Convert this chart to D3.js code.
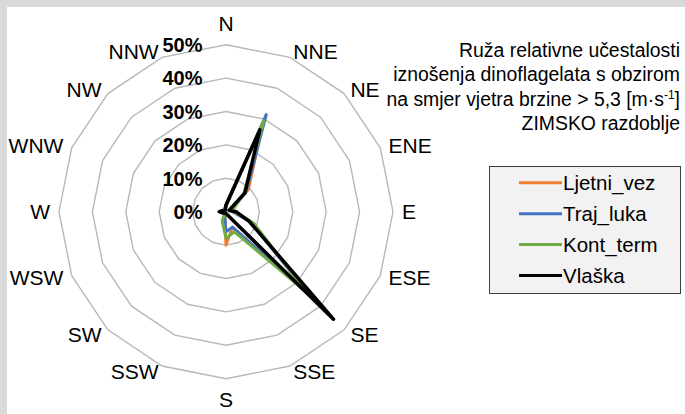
<!DOCTYPE html>
<html>
<head>
<meta charset="utf-8">
<script src="https://cdn.jsdelivr.net/npm/d3@7"></script>
<style>
  html, body { margin: 0; padding: 0; background: #ffffff; }
  svg { display: block; font-family: "Liberation Sans", Arial, sans-serif; }
</style>
</head>
<body>
<svg id="chart" width="685" height="414"></svg>
<script>
// Wind directions (clockwise from north)
const directions = ["N", "NNE", "NE", "ENE", "E", "ESE", "SE", "SSE",
                    "S", "SSW", "SW", "WSW", "W", "WNW", "NW", "NNW"];

// Relative frequency (%) per direction for each station
const ljetniVez = [2, 29, 9.5, 2, 2, 8.5, 35, 5, 10, 1, 0.5, 0.5, 1, 0.5, 0.5, 1];
const trajLuka  = [2, 31.5, 8.5, 2, 2, 8, 35, 5, 6, 1, 0.5, 0.5, 1, 0.5, 0.5, 1];
const kontTerm  = [1.5, 29.5, 7.5, 2.5, 2.5, 9, 34, 6.5, 8, 3, 0.5, 0.5, 1, 0.5, 0.5, 1];
const vlaska    = [2, 26.5, 8, 1, 3, 7.5, 45.5, 1, 0.5, 0.5, 0.5, 1, 2, 1, 0.5, 0.5];

const seriesNames  = ["Ljetni_vez", "Traj_luka", "Kont_term", "Vlaška"];
const seriesColors = ["#ed7d31", "#4472c4", "#70ad47", "#000000"];
const seriesWidths = [3, 3, 3, 3.5];
const seriesValues = [ljetniVez, trajLuka, kontTerm, vlaska];

// Radial axis ticks (%)
const tickValues = [0, 10, 20, 30, 40, 50];

const titleLines = [
  "Ruža relativne učestalosti",
  "iznošenja dinoflagelata s obzirom",
  "na smjer vjetra brzine > 5,3 [m·s",
  "ZIMSKO razdoblje"
];

const svg = d3.select("#chart");
const W = 685, H = 414;

// frame bands along the top and left edges
svg.append("rect").attr("x", 0).attr("y", 0).attr("width", W).attr("height", 7).attr("fill", "#d9d9d9");
svg.append("rect").attr("x", 0).attr("y", 0).attr("width", 7).attr("height", H).attr("fill", "#d9d9d9");

const cx = 226, cy = 211.7, R = 167;
const r = d3.scaleLinear().domain([0, 50]).range([0, R]);
const angle = d3.scalePoint().domain(directions).range([0, 2 * Math.PI * 15 / 16]);

const g = svg.append("g").attr("transform", `translate(${cx},${cy})`);

// concentric polygon grid
const ringLine = d3.lineRadial()
  .angle(d => angle(d))
  .curve(d3.curveLinearClosed);
tickValues.filter(t => t > 0).forEach(t => {
  g.append("path")
    .attr("d", ringLine.radius(() => r(t))(directions))
    .attr("fill", "none")
    .attr("stroke", "#b8b8b8")
    .attr("stroke-width", 1.4);
});

// radial tick labels
g.selectAll("text.tick")
  .data(tickValues)
  .join("text")
  .attr("class", "tick")
  .attr("x", -23.5)
  .attr("y", d => -r(d))
  .attr("dy", "0.36em")
  .attr("text-anchor", "end")
  .attr("font-size", 20)
  .attr("font-weight", "bold")
  .attr("fill", "#000")
  .text(d => d3.format(".0%")(d / 100));

// direction labels
const labR = R + 9;
g.selectAll("text.dir")
  .data(directions)
  .join("text")
  .attr("class", "dir")
  .each(function(d) {
    const a = angle(d);
    const s = Math.sin(a), c = Math.cos(a);
    const px = labR * s, py = -labR * c;
    let anchor = "middle", yc;
    if (Math.abs(s) < 0.01) {
      yc = c > 0 ? py - 12.5 : py + 12;
    } else {
      anchor = s > 0 ? "start" : "end";
      yc = py + 3 * c;
    }
    d3.select(this)
      .attr("x", px)
      .attr("y", yc)
      .attr("dy", "0.36em")
      .attr("text-anchor", anchor);
  })
  .attr("font-size", 21)
  .attr("fill", "#000")
  .text(d => d);

// series polygons
const seriesLine = d3.lineRadial()
  .angle((d, i) => angle(directions[i]))
  .radius(d => r(d))
  .curve(d3.curveLinearClosed);

seriesValues.forEach((vals, k) => {
  g.append("path")
    .attr("d", seriesLine(vals))
    .attr("fill", "none")
    .attr("stroke", seriesColors[k])
    .attr("stroke-width", seriesWidths[k])
    .attr("stroke-linejoin", "round");
});

// title
const title = svg.append("text")
  .attr("text-anchor", "end")
  .attr("font-size", 19.4)
  .attr("fill", "#000");
titleLines.forEach((line, i) => {
  const t = title.append("tspan")
    .attr("x", 680)
    .attr("y", 56.5 + i * 24.5)
    .text(line);
  if (i === 2) {
    t.append("tspan").attr("font-size", 12).attr("dy", -7).text("-1");
    t.append("tspan").attr("dy", 7).text("]");
  }
});

// legend
const lg = svg.append("g");
lg.append("rect")
  .attr("x", 489.5).attr("y", 166.5)
  .attr("width", 191).attr("height", 127)
  .attr("fill", "#f2f2f2")
  .attr("stroke", "#404040")
  .attr("stroke-width", 1);

const legendY = d3.scalePoint().domain(seriesNames).range([182.7, 275.5]);
seriesNames.forEach((name, k) => {
  const y = legendY(name);
  lg.append("line")
    .attr("x1", 519).attr("x2", 562)
    .attr("y1", y).attr("y2", y)
    .attr("stroke", seriesColors[k])
    .attr("stroke-width", 3);
  lg.append("text")
    .attr("x", 563).attr("y", y)
    .attr("dy", "0.36em")
    .attr("font-size", 20.5)
    .attr("fill", "#000")
    .text(name);
});
</script>
</body>
</html>
